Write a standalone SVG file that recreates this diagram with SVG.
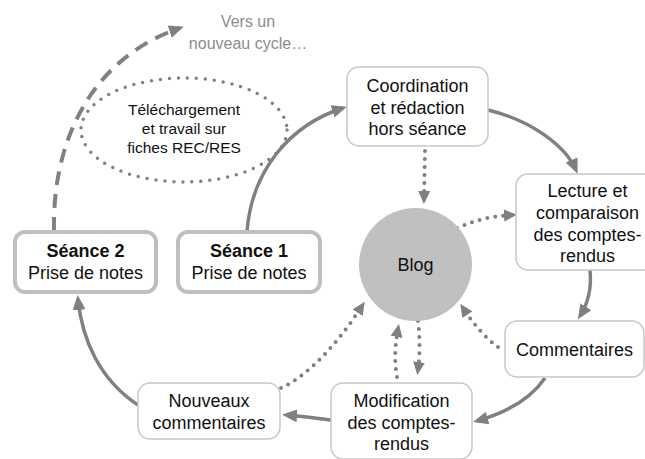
<svg xmlns="http://www.w3.org/2000/svg" width="645" height="459" viewBox="0 0 645 459">
<style>
.box{fill:#fff;stroke:#c8c8c8;stroke-width:1.5}
.sbox{fill:#fff;stroke:#bfbfbf;stroke-width:4}
.t{font-family:"Liberation Sans",Arial,sans-serif;font-size:18px;fill:#111;text-anchor:middle}
.tb{font-weight:bold}
.te{font-family:"Liberation Sans",Arial,sans-serif;font-size:15.5px;fill:#111;text-anchor:middle}
.tv{font-family:"Liberation Sans",Arial,sans-serif;font-size:16px;fill:#8c8c8c;text-anchor:middle}
.solid{fill:none;stroke:#808080;stroke-width:3.5;marker-end:url(#ah)}
.dot{fill:none;stroke:#808080;stroke-width:4;stroke-linecap:round;stroke-dasharray:0 8;marker-end:url(#ahd)}
.dash{fill:none;stroke:#808080;stroke-width:4;stroke-dasharray:14 9;marker-end:url(#ah)}
</style>
<defs>
<marker id="ah" markerUnits="userSpaceOnUse" markerWidth="16" markerHeight="14" refX="11" refY="6.5" orient="auto">
<path d="M0,0 L15,6.5 L0,13 z" fill="#808080" stroke="none"/>
</marker>
<marker id="ahd" markerUnits="userSpaceOnUse" markerWidth="16" markerHeight="14" refX="8" refY="6" orient="auto">
<path d="M0,0 L13,6 L0,12 z" fill="#808080" stroke="none"/>
</marker>
</defs>

<g id="connectors">
<path class="dash" d="M54,231 C52,130 100,55 180,28"/>
<path class="solid" d="M247,231 C252,170 290,125 343,108"/>
<path class="solid" d="M488,110 C530,120 565,145 576,170"/>
<path class="solid" d="M590,270 C592,290 587,305 580,316"/>
<path class="solid" d="M545,378 C530,400 505,413 477,421"/>
<path class="solid" d="M331,420 C315,418 300,416 286,415"/>
<path class="solid" d="M138,405 C100,380 82,340 78,299"/>
<path class="dot" d="M425,151 L424,199"/>
<path class="dot" d="M457,228 C475,220 492,216 512,215"/>
<path class="dot" d="M498,347 C485,338 472,322 463,308"/>
<path class="dot" d="M397,377 C394,360 395,345 398,329"/>
<path class="dot" d="M418,321 C420,338 420,355 418,370"/>
<path class="dot" d="M281,388 C310,375 340,340 362,306"/>
</g>

<g id="cycle-label">
<text class="tv" x="248" y="27">Vers un</text>
<text class="tv" x="248" y="49">nouveau cycle…</text>
</g>

<g id="telechargement">
<ellipse cx="184" cy="130" rx="103" ry="52" fill="none" stroke="#808080" stroke-width="3.5" stroke-linecap="round" stroke-dasharray="0 9"/>
<text class="te" x="184" y="115">Téléchargement</text>
<text class="te" x="184" y="134">et travail sur</text>
<text class="te" x="184" y="153">fiches REC/RES</text>
</g>

<g id="coordination">
<rect class="box" x="347" y="67" width="141" height="79" rx="12"/>
<text class="t" x="417.5" y="92">Coordination</text>
<text class="t" x="417.5" y="113.5">et rédaction</text>
<text class="t" x="417.5" y="135">hors séance</text>
</g>

<g id="lecture">
<rect class="box" x="516" y="174" width="143" height="96" rx="12"/>
<text class="t" x="587.5" y="197">Lecture et</text>
<text class="t" x="587.5" y="219">comparaison</text>
<text class="t" x="587.5" y="240.5">des comptes-</text>
<text class="t" x="587.5" y="262">rendus</text>
</g>

<g id="commentaires">
<rect class="box" x="505" y="321" width="139" height="56" rx="12"/>
<text class="t" x="574.5" y="356">Commentaires</text>
</g>

<g id="modification">
<rect class="box" x="331" y="383" width="141" height="76" rx="12"/>
<text class="t" x="401.5" y="407">Modification</text>
<text class="t" x="401.5" y="428.5">des comptes-</text>
<text class="t" x="401.5" y="450">rendus</text>
</g>

<g id="nouveaux">
<rect class="box" x="138" y="383" width="142" height="56" rx="12"/>
<text class="t" x="209" y="407">Nouveaux</text>
<text class="t" x="209" y="428.5">commentaires</text>
</g>

<g id="seance2">
<rect class="sbox" x="15" y="232" width="141" height="60" rx="10"/>
<text class="t tb" x="85.5" y="257">Séance 2</text>
<text class="t" x="85.5" y="279">Prise de notes</text>
</g>

<g id="seance1">
<rect class="sbox" x="178" y="232" width="142" height="60" rx="10"/>
<text class="t tb" x="249" y="257">Séance 1</text>
<text class="t" x="249" y="279">Prise de notes</text>
</g>

<g id="blog">
<circle cx="415.5" cy="264.5" r="56.5" fill="#c0c0c0"/>
<text class="t" x="415.5" y="270.5">Blog</text>
</g>
</svg>
